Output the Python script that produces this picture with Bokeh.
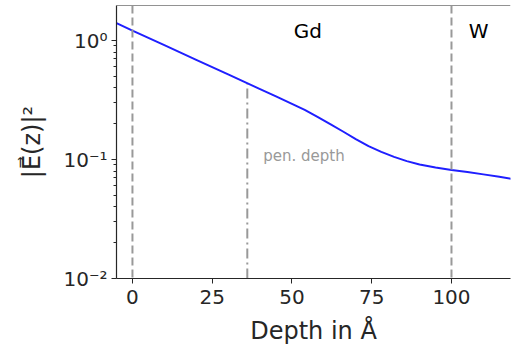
import numpy as np
from bokeh.plotting import figure
from bokeh.models import Range1d, FixedTicker, Span
from bokeh.core.properties import value
from bokeh.embed import file_html
from bokeh.resources import INLINE

# data
depth = [-5, 0, 10, 20, 30, 40, 45, 50, 54, 58, 62, 66, 70, 74, 78, 82, 86, 90,
         95, 100, 105, 110, 115, 120]
intensity = [1.400, 1.213, 0.914, 0.689, 0.519, 0.391, 0.339, 0.2935, 0.261, 0.2285,
             0.1985, 0.172, 0.1486, 0.1294, 0.1161, 0.1052, 0.0970, 0.0908,
             0.0857, 0.0818, 0.0787, 0.0750, 0.0715, 0.0679]
interfaces = [0, 100]
pen_depth = 36
layer_labels = ["Gd", "W"]
layer_label_x = [55, 108.5]
layer_label_y = [1.21, 1.21]
pen_label = "pen. depth"
pen_label_x = 41
pen_label_y = 0.108
x_ticks = [0, 25, 50, 75, 100]
y_ticks = [0.01, 0.1, 1.0]
y_tick_labels = {0.01: "10\u207b\u00b2", 0.1: "10\u207b\u00b9", 1.0: "10\u2070"}

FONT = "DejaVu Sans"
GRAY = "#999999"
AX = "#262626"

p = figure(width=511, height=354, output_backend="svg", toolbar_location=None,
           y_axis_type="log", x_range=Range1d(-5, 118.5), y_range=Range1d(0.01, 1.97),
           min_border_left=116, min_border_right=1, min_border_top=5, min_border_bottom=76)
p.outline_line_color = None
p.grid.visible = False
p.background_fill_color = "white"
p.border_fill_color = "white"

# top spine
p.add_layout(Span(location=1.97, dimension="width", line_color=AX, line_width=1.2))

for xi in interfaces:
    p.add_layout(Span(location=xi, dimension="height", line_color=GRAY,
                      line_width=2, line_dash="8 4"))

pen_top = 10 ** np.interp(pen_depth, depth, np.log10(intensity))
p.segment(x0=[pen_depth], y0=[0.01], x1=[pen_depth], y1=[pen_top],
          line_color=GRAY, line_width=2, line_dash="10 4 2 4")

p.line(depth, intensity, line_color="#1f1fff", line_width=2, line_join="round")

p.text(x=layer_label_x, y=layer_label_y, text=layer_labels, text_font=value(FONT),
       text_font_size="20px", text_align="center", text_baseline="middle", text_color="black")
p.text(x=[pen_label_x], y=[pen_label_y], text=[pen_label], text_font=value(FONT),
       text_font_size="15px", text_align="left", text_baseline="middle", text_color=GRAY)

xa = p.xaxis[0]
xa.ticker = FixedTicker(ticks=x_ticks)
ya = p.yaxis[0]
minor = [m * d for d in [0.01, 0.1, 1.0] for m in range(2, 10)]
ya.ticker = FixedTicker(ticks=y_ticks, minor_ticks=minor)
ya.major_label_overrides = y_tick_labels

for ax in (xa, ya):
    ax.axis_line_color = AX
    ax.axis_line_width = 1.2
    ax.major_tick_line_color = AX
    ax.minor_tick_line_color = AX
    ax.major_tick_in = 0
    ax.major_tick_out = 5
    ax.minor_tick_in = 0
    ax.minor_tick_out = 3
    ax.major_label_text_font = FONT
    ax.major_label_text_font_size = "20px"
    ax.major_label_text_color = AX
    ax.axis_label_text_font = FONT
    ax.axis_label_text_font_size = "24px"
    ax.axis_label_text_font_style = "normal"
    ax.axis_label_text_color = AX
xa.minor_tick_out = 0
xa.axis_label = "Depth in Å"
xa.axis_label_standoff = 10
xa.major_label_standoff = 6
ya.axis_label = "|E\u20d7(z)|\u00b2"
ya.axis_label_standoff = 14
ya.major_label_standoff = 4

open("out.html", "w").write(file_html(p, INLINE))
